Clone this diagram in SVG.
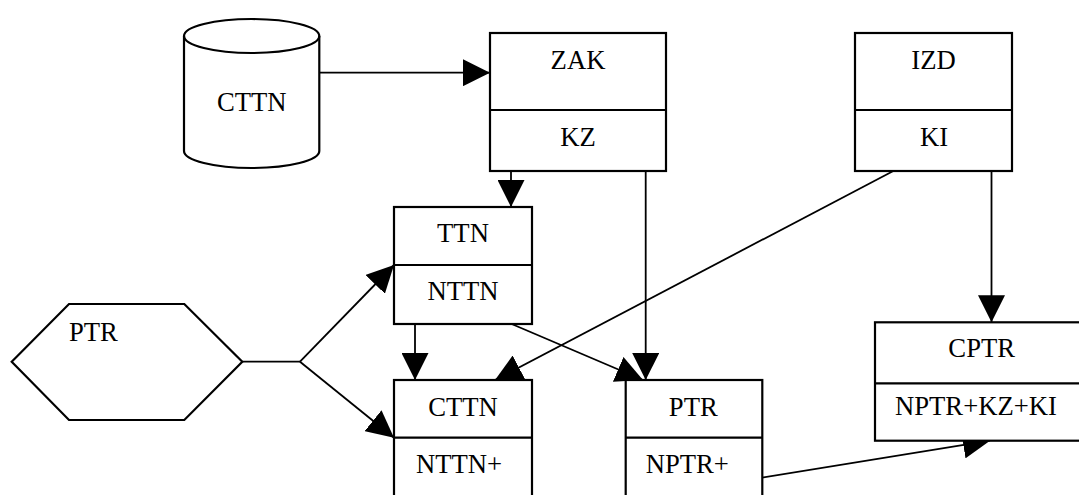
<svg xmlns="http://www.w3.org/2000/svg" width="1079" height="495" viewBox="0 0 1079 495">
<style>
.box{fill:#fff;stroke:#000;stroke-width:2.2}
.div{stroke:#000;stroke-width:2.2}
.m{text-anchor:middle}
.c{fill:none;stroke:#000;stroke-width:1.8}
text{font-family:'Liberation Serif','Times New Roman',Times,serif;font-size:26.67px;fill:#000}
</style>
<defs>
<marker id="ah" viewBox="0 0 27 27" refX="27" refY="13.5" markerWidth="27" markerHeight="27" markerUnits="userSpaceOnUse" orient="auto">
<path d="M0,0 L27,13.5 L0,27 z" fill="#000"/>
</marker>
</defs>
<rect width="1079" height="495" fill="#fff"/>
<g id="connectors">
<line class="c" x1="319" y1="72.7" x2="490" y2="72.7" marker-end="url(#ah)"/>
<line class="c" x1="511" y1="171" x2="511" y2="207" marker-end="url(#ah)"/>
<line class="c" x1="645.7" y1="171" x2="645.7" y2="380" marker-end="url(#ah)"/>
<line class="c" x1="893.3" y1="171" x2="495" y2="380" marker-end="url(#ah)"/>
<line class="c" x1="991.5" y1="171" x2="991.5" y2="322.3" marker-end="url(#ah)"/>
<line class="c" x1="242.3" y1="361.7" x2="300" y2="361.7"/>
<line class="c" x1="300" y1="361.7" x2="394" y2="265" marker-end="url(#ah)"/>
<line class="c" x1="300" y1="361.7" x2="394" y2="437.7" marker-end="url(#ah)"/>
<line class="c" x1="415" y1="324" x2="415" y2="380" marker-end="url(#ah)"/>
<line class="c" x1="511.7" y1="324" x2="643" y2="380" marker-end="url(#ah)"/>
<line class="c" x1="761.7" y1="477.7" x2="990" y2="440.7" marker-end="url(#ah)"/>
</g>
<g id="cttn-store">
<path class="box" d="M184,36 L184,151 A67.65,17 0 0 0 319.3,151 L319.3,36 A67.65,17 0 0 0 184,36 Z"/>
<path class="box" style="fill:none" d="M184,36 A67.65,17 0 0 0 319.3,36"/>
<text class="m" x="251.7" y="110.7">CTTN</text>
</g>
<g id="zak">
<rect class="box" x="490" y="33" width="176" height="138"/>
<line class="div" x1="490" y1="110" x2="666" y2="110"/>
<text class="m" x="578" y="69">ZAK</text>
<text class="m" x="578" y="146">KZ</text>
</g>
<g id="izd">
<rect class="box" x="855" y="33" width="157" height="138"/>
<line class="div" x1="855" y1="110" x2="1012" y2="110"/>
<text class="m" x="933.5" y="69">IZD</text>
<text class="m" x="934" y="146">KI</text>
</g>
<g id="ttn">
<rect class="box" x="394" y="207" width="138" height="117"/>
<line class="div" x1="394" y1="265" x2="532" y2="265"/>
<text class="m" x="463" y="242">TTN</text>
<text class="m" x="463" y="300">NTTN</text>
</g>
<g id="ptr-source">
<polygon class="box" points="11.7,361.7 69,304 184.3,304 242.3,361.7 184.3,420 69,420"/>
<text x="69" y="340.7">PTR</text>
</g>
<g id="cttn">
<rect class="box" x="394" y="380" width="138" height="130"/>
<line class="div" x1="394" y1="437.7" x2="532" y2="437.7"/>
<text class="m" x="463" y="416">CTTN</text>
<text x="416" y="473.3">NTTN+</text>
</g>
<g id="ptr">
<rect class="box" x="625.7" y="380" width="136.6" height="130"/>
<line class="div" x1="625.7" y1="437.7" x2="762.3" y2="437.7"/>
<text class="m" x="693.3" y="416">PTR</text>
<text x="645.7" y="473.3">NPTR+</text>
</g>
<g id="cptr">
<rect class="box" x="875" y="322.3" width="213" height="118.4"/>
<line class="div" x1="875" y1="383.3" x2="1088" y2="383.3"/>
<text class="m" x="981.7" y="357.3">CPTR</text>
<text x="895" y="415">NPTR+KZ+KI</text>
</g>
</svg>
